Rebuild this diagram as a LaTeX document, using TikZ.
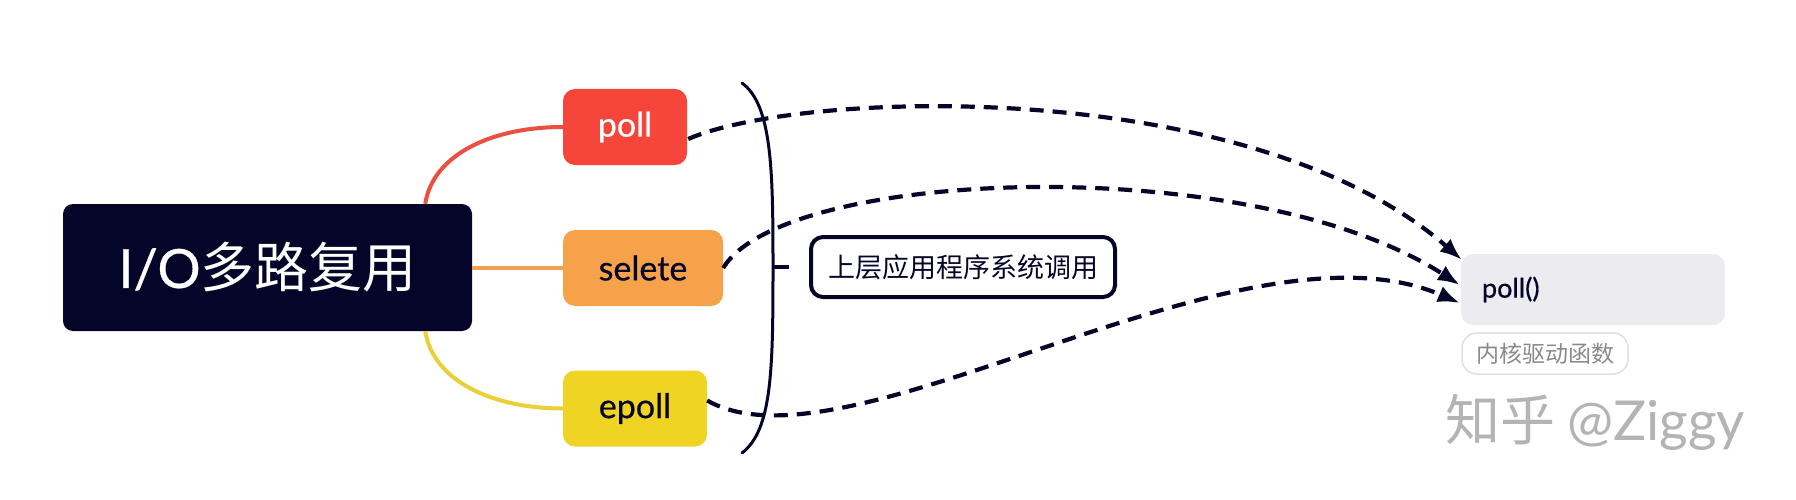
\documentclass[tikz,border=0pt]{standalone}
\usepackage{fontspec}
\newfontfamily\cjk{Noto Sans CJK SC}
\newfontfamily\lat{Lato}
\newfontfamily\latm[FakeBold=0.6]{Lato}
\usetikzlibrary{arrows.meta}
\definecolor{navy}{HTML}{050529}
\definecolor{cred}{HTML}{F6453B}
\definecolor{corange}{HTML}{F5A24A}
\definecolor{cyellow}{HTML}{F0D424}
\definecolor{lred}{HTML}{EA4F3F}
\definecolor{lorange}{HTML}{EFA055}
\definecolor{lyellow}{HTML}{ECCF35}
\definecolor{kgray}{HTML}{ECEBEF}
\definecolor{tagline}{HTML}{E0E0E0}
\definecolor{tagtext}{HTML}{8A8A8A}
\definecolor{wmark}{HTML}{B4B4B4}
\begin{document}
\begin{tikzpicture}[x=1pt,y=-1pt,
  branch/.style={rounded corners=12pt, inner sep=0pt, minimum height=76pt, font=\latm\fontsize{34}{40}\selectfont},
  branchline/.style={line width=4pt},
  callarrow/.style={navy, line width=4.2pt, dash pattern=on 14pt off 9pt, -{Latex[length=22pt,width=17pt]}},
]
\useasboundingbox (0,0) rectangle (1796,500);

% root
\node[fill=navy, rounded corners=10pt, minimum width=409pt, minimum height=127pt, inner sep=0pt, text=white]
  (root) at (267.5,267.5) {\fontsize{54}{62}\selectfont\latm I/O\cjk 多路复用};

% branches
\node[branch, fill=cred, text=white, minimum width=124pt] (p1) at (625,127) {poll};
\node[branch, fill=corange, text=navy, minimum width=160pt] (p2) at (643,268) {selete};
\node[branch, fill=cyellow, text=navy, minimum width=144pt] (p3) at (635,408.5) {epoll};

% branch lines
\draw[branchline, lred] ([shift={(-47,0)}]root.north east) .. controls +(8,-50) and +(-70,0) .. (p1.west);
\draw[branchline, lorange] (root.east |- p2.west) -- (p2.west);
\draw[branchline, lyellow] ([shift={(-47,0)}]root.south east) .. controls +(8,50) and +(-70,0) .. (p3.west);

% bracket
\coordinate (bt) at (742,83);
\coordinate (bm) at (773,267);
\coordinate (bb) at (742,453);
\coordinate (tk) at (789,267);
\draw[navy, line width=3pt, line cap=round] (bt) .. controls (772,105) and (773,170) .. (bm) .. controls (773,370) and (772,430) .. (bb);
\draw[navy, line width=4pt] (bm) -- (tk);

% upper-level label
\node[draw=navy, line width=4pt, rounded corners=12pt, fill=white, minimum width=304pt, minimum height=60pt, inner sep=0pt,
  font=\cjk\fontsize{27}{31}\selectfont, text=navy] (app) at (963,267) {上层应用程序系统调用};

% kernel poll()
\node[fill=kgray, rounded corners=12pt, minimum height=71pt, text width=222pt, inner xsep=21pt, inner ysep=0pt, align=left,
  font=\latm\fontsize{27}{31}\selectfont, text=navy] (k) at (1593,289.5) {poll()};
\node[draw=tagline, line width=1.5pt, fill=white, rounded corners=15pt, minimum width=166pt, minimum height=41pt, inner sep=0pt,
  font=\cjk\fontsize{23}{26}\selectfont, text=tagtext] (tag) at (1545,353.5) {内核驱动函数};

% arrow ends
\coordinate (e1) at ([shift={(1,6)}]k.north west);
\coordinate (e2) at ([shift={(-1,-4.5)}]k.west);
\coordinate (e3) at ([shift={(-1,13.5)}]k.west);

\draw[callarrow] ([shift={(1,12)}]p1.east) .. controls +(112,-49) and +(-212,-185) .. (e1);
\draw[callarrow] (p2.east) .. controls +(60,-100) and +(-210,-135) .. (e2);
\draw[callarrow] ([shift={(0,-8)}]p3.east) .. controls +(140,80) and +(-220,-95) .. (e3);

% watermark
\node[text=wmark, inner sep=0pt, font=\fontsize{55}{62}\selectfont] (wm) at (1595,422) {\cjk 知乎\ \lat @Ziggy};
\end{tikzpicture}
\end{document}
